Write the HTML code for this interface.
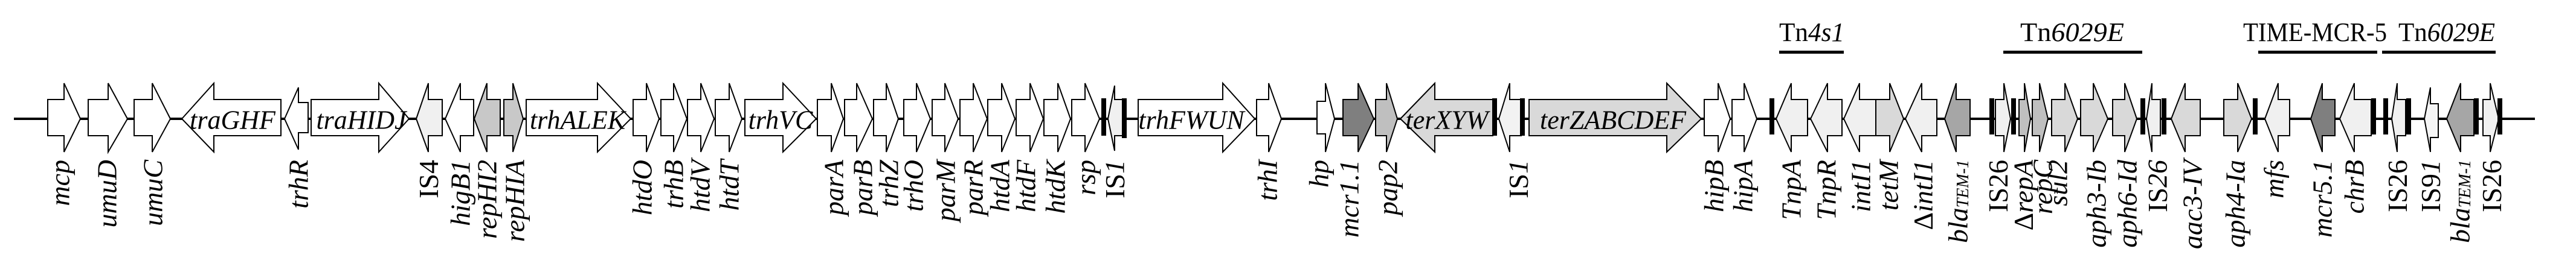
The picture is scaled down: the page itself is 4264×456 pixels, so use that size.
<!DOCTYPE html>
<html><head><meta charset="utf-8"><style>
html,body{margin:0;padding:0;background:#fff;}
svg{display:block;}
.g{stroke:#000;stroke-width:2;stroke-linejoin:miter;}
.l{font-family:"Liberation Serif",serif;font-size:46px;font-style:italic;fill:#000;}
.u{font-style:normal;}
.t{font-family:"Liberation Serif",serif;font-size:44px;font-style:italic;fill:#000;}
.h{font-family:"Liberation Serif",serif;font-size:44px;fill:#000;}
</style></head><body>
<svg width="4264" height="456" viewBox="0 0 4264 456" xmlns="http://www.w3.org/2000/svg">
<line x1="23" y1="197" x2="4196" y2="197" stroke="#000" stroke-width="4"/>
<g class="g" fill="#fff">
<polygon points="79,165 106,165 106,138 133,197 106,252 106,225 79,225"/>
<polygon points="146,165 179,165 179,138 211,197 179,252 179,225 146,225"/>
<polygon points="222,165 252,165 252,138 282,197 252,252 252,225 222,225"/>
<polygon points="515,165 627,165 627,138 677,197 627,252 627,225 515,225"/>
<polygon fill="#c8c8c8" points="834,165 849,165 849,138 866,197 849,252 849,225 834,225"/>
<polygon points="871,165 989,165 989,138 1044,197 989,252 989,225 871,225"/>
<polygon points="1048,165 1070,165 1070,138 1091,197 1070,252 1070,225 1048,225"/>
<polygon points="1094,165 1115,165 1115,138 1137,197 1115,252 1115,225 1094,225"/>
<polygon points="1138,165 1160,165 1160,138 1182,197 1160,252 1160,225 1138,225"/>
<polygon points="1184,165 1207,165 1207,138 1228,197 1207,252 1207,225 1184,225"/>
<polygon points="1233,165 1296,165 1296,138 1351,197 1296,252 1296,225 1233,225"/>
<polygon points="1353,165 1376,165 1376,138 1396,197 1376,252 1376,225 1353,225"/>
<polygon points="1398,165 1418,165 1418,138 1444,197 1418,252 1418,225 1398,225"/>
<polygon points="1446,165 1467,165 1467,138 1487,197 1467,252 1467,225 1446,225"/>
<polygon points="1496,165 1517,165 1517,138 1540,197 1517,252 1517,225 1496,225"/>
<polygon points="1543,165 1564,165 1564,138 1586,197 1564,252 1564,225 1543,225"/>
<polygon points="1589,165 1611,165 1611,138 1634,197 1611,252 1611,225 1589,225"/>
<polygon points="1635,165 1658,165 1658,138 1680,197 1658,252 1658,225 1635,225"/>
<polygon points="1682,165 1705,165 1705,138 1727,197 1705,252 1705,225 1682,225"/>
<polygon points="1728,165 1751,165 1751,138 1772,197 1751,252 1751,225 1728,225"/>
<polygon points="1774,165 1796,165 1796,138 1820,197 1796,252 1796,225 1774,225"/>
<polygon points="1884,165 2024,165 2024,138 2077,197 2024,252 2024,225 1884,225"/>
<polygon points="2080,165 2100,165 2100,138 2121,197 2100,252 2100,225 2080,225"/>
<polygon points="2180,168 2194,168 2194,138 2209,197 2194,252 2194,222 2180,222"/>
<polygon fill="#7f7f7f" points="2223,165 2248,165 2248,138 2274,197 2248,252 2248,225 2223,225"/>
<polygon fill="#bfbfbf" points="2277,165 2295,165 2295,138 2313,197 2295,252 2295,225 2277,225"/>
<polygon fill="#d9d9d9" points="2531,165 2759,165 2759,138 2816,197 2759,252 2759,225 2531,225"/>
<polygon points="2821,165 2844,165 2844,138 2864,197 2844,252 2844,225 2821,225"/>
<polygon points="2867,165 2887,165 2887,138 2908,197 2887,252 2887,225 2867,225"/>
<polygon fill="#d9d9d9" points="3105,165 3128,165 3128,138 3151,197 3128,252 3128,225 3105,225"/>
<polygon fill="#f0f0f0" points="3303,165 3317,165 3317,138 3328,197 3317,252 3317,225 3303,225"/>
<polygon fill="#bfbfbf" points="3342,165 3351,165 3351,138 3361,197 3351,252 3351,225 3342,225"/>
<polygon fill="#bfbfbf" points="3364,165 3376,165 3376,138 3390,197 3376,252 3376,225 3364,225"/>
<polygon fill="#d9d9d9" points="3396,165 3418,165 3418,138 3439,197 3418,252 3418,225 3396,225"/>
<polygon fill="#d9d9d9" points="3444,165 3465,165 3465,138 3489,197 3465,252 3465,225 3444,225"/>
<polygon fill="#d9d9d9" points="3497,165 3517,165 3517,138 3537,197 3517,252 3517,225 3497,225"/>
<polygon fill="#d9d9d9" points="3681,165 3704,165 3704,138 3727,197 3704,252 3704,225 3681,225"/>
<polygon fill="#f0f0f0" points="4110,165 4122,165 4122,138 4136,197 4122,252 4122,225 4110,225"/>
<polygon points="301,197 354,138 354,165 465,165 465,225 354,225 354,252"/>
<polygon points="471,197 494,145 494,170 510,170 510,220 494,220 494,248"/>
<polygon fill="#f0f0f0" points="689,197 709,138 709,165 732,165 732,225 709,225 709,252"/>
<polygon points="737,197 762,138 762,165 784,165 784,225 762,225 762,252"/>
<polygon fill="#c8c8c8" points="785,197 806,138 806,165 828,165 828,225 806,225 806,252"/>
<polygon fill="#f0f0f0" points="1834,197 1845,142 1845,165 1859,165 1859,225 1845,225 1845,250"/>
<polygon fill="#d9d9d9" points="2318,197 2375,138 2375,165 2471,165 2471,225 2375,225 2375,252"/>
<polygon fill="#f2f2f2" points="2481,197 2499,138 2499,165 2518,165 2518,225 2499,225 2499,252"/>
<polygon fill="#f0f0f0" points="2940,197 2965,138 2965,165 2992,165 2992,225 2965,225 2965,252"/>
<polygon fill="#f0f0f0" points="2997,197 3025,138 3025,165 3049,165 3049,225 3025,225 3025,252"/>
<polygon fill="#f0f0f0" points="3052,197 3078,138 3078,165 3105,165 3105,225 3078,225 3078,252"/>
<polygon fill="#f0f0f0" points="3154,197 3181,138 3181,165 3206,165 3206,225 3181,225 3181,252"/>
<polygon fill="#a6a6a6" points="3219,197 3238,138 3238,165 3261,165 3261,225 3238,225 3238,252"/>
<polygon fill="#f0f0f0" points="3553,197 3562,138 3562,165 3576,165 3576,225 3562,225 3562,252"/>
<polygon fill="#d9d9d9" points="3594,197 3617,138 3617,165 3642,165 3642,225 3617,225 3617,252"/>
<polygon fill="#f0f0f0" points="3749,197 3771,138 3771,165 3790,165 3790,225 3771,225 3771,252"/>
<polygon fill="#7f7f7f" points="3825,197 3844,138 3844,165 3865,165 3865,225 3844,225 3844,252"/>
<polygon fill="#f0f0f0" points="3873,197 3897,138 3897,165 3925,165 3925,225 3897,225 3897,252"/>
<polygon fill="#f0f0f0" points="3959,197 3968,138 3968,165 3982,165 3982,225 3968,225 3968,252"/>
<polygon fill="#f5f5f5" points="4013,197 4023,145 4023,172 4036,172 4036,228 4023,228 4023,252"/>
<polygon fill="#a6a6a6" points="4050,197 4073,138 4073,165 4095,165 4095,225 4073,225 4073,252"/>
</g>
<g fill="#000">
<rect x="1823" y="163" width="8" height="62"/>
<rect x="1857" y="163" width="8" height="66"/>
<rect x="2470" y="163" width="8" height="62"/>
<rect x="2516" y="163" width="8" height="62"/>
<rect x="2929" y="163" width="8" height="60"/>
<rect x="3293" y="163" width="8" height="60"/>
<rect x="3329" y="163" width="8" height="60"/>
<rect x="3543" y="163" width="8" height="60"/>
<rect x="3578" y="163" width="8" height="60"/>
<rect x="3729" y="163" width="8" height="60"/>
<rect x="3925" y="163" width="8" height="60"/>
<rect x="3945" y="163" width="8" height="60"/>
<rect x="3983" y="163" width="8" height="60"/>
<rect x="4095" y="163" width="8" height="60"/>
<rect x="4134" y="163" width="8" height="60"/>
</g>
<g class="t" text-anchor="middle" dominant-baseline="central">
<text x="385" y="199">traGHF</text>
<text x="598" y="199">traHIDJ</text>
<text x="956" y="199">trhALEK</text>
<text x="1292" y="199">trhVC</text>
<text x="1972" y="199">trhFWUN</text>
<text x="2395" y="199">terXYW</text>
<text x="2670" y="199">terZABCDEF</text>
</g>
<g fill="#000">
<rect x="2945" y="84" width="107" height="5"/>
<rect x="3316" y="84" width="230" height="5"/>
<rect x="3738" y="84" width="197" height="5"/>
<rect x="3943" y="84" width="188" height="5"/>
</g>
<g class="h">
<text x="2945" y="68" textLength="108" lengthAdjust="spacingAndGlyphs">Tn<tspan font-style="italic">4s1</tspan></text>
<text x="3344" y="68" textLength="172" lengthAdjust="spacingAndGlyphs">Tn<tspan font-style="italic">6029E</tspan></text>
<text x="3713" y="68" textLength="238" lengthAdjust="spacingAndGlyphs">TIME-MCR-5</text>
<text x="3970" y="68" textLength="160" lengthAdjust="spacingAndGlyphs">Tn<tspan font-style="italic">6029E</tspan></text>
</g>
<g class="l" text-anchor="end" dominant-baseline="central">
<text transform="translate(99,265) rotate(-90)">mcp</text>
<text transform="translate(177,265) rotate(-90)">umuD</text>
<text transform="translate(253,265) rotate(-90)">umuC</text>
<text transform="translate(494,265) rotate(-90)">trhR</text>
<text transform="translate(709,265) rotate(-90)"><tspan class="u">IS4</tspan></text>
<text transform="translate(762,265) rotate(-90)">higB1</text>
<text transform="translate(806,265) rotate(-90)">repHI2</text>
<text transform="translate(852,265) rotate(-90)">repHIA</text>
<text transform="translate(1063,265) rotate(-90)">htdO</text>
<text transform="translate(1115,265) rotate(-90)">trhB</text>
<text transform="translate(1159,265) rotate(-90)">htdV</text>
<text transform="translate(1207,265) rotate(-90)">htdT</text>
<text transform="translate(1380,265) rotate(-90)">parA</text>
<text transform="translate(1428,265) rotate(-90)">parB</text>
<text transform="translate(1471,265) rotate(-90)">trhZ</text>
<text transform="translate(1512,265) rotate(-90)">trhO</text>
<text transform="translate(1565,265) rotate(-90)">parM</text>
<text transform="translate(1611,265) rotate(-90)">parR</text>
<text transform="translate(1655,265) rotate(-90)">htdA</text>
<text transform="translate(1698,265) rotate(-90)">htdF</text>
<text transform="translate(1747,265) rotate(-90)">htdK</text>
<text transform="translate(1797,265) rotate(-90)">rsp</text>
<text transform="translate(1845,265) rotate(-90)"><tspan class="u">IS</tspan>1</text>
<text transform="translate(2098,265) rotate(-90)">trhI</text>
<text transform="translate(2183,265) rotate(-90)">hp</text>
<text transform="translate(2233,265) rotate(-90)">mcr1.1</text>
<text transform="translate(2297,265) rotate(-90)">pap2</text>
<text transform="translate(2513,265) rotate(-90)"><tspan class="u">IS</tspan>1</text>
<text transform="translate(2837,265) rotate(-90)">hipB</text>
<text transform="translate(2885,265) rotate(-90)">hipA</text>
<text transform="translate(2965,265) rotate(-90)">TnpA</text>
<text transform="translate(3023,265) rotate(-90)">TnpR</text>
<text transform="translate(3080,265) rotate(-90)">intI1</text>
<text transform="translate(3126,265) rotate(-90)">tetM</text>
<text transform="translate(3183,265) rotate(-90)"><tspan class="u">Δ</tspan>intI1</text>
<text transform="translate(3241,265) rotate(-90)">bla<tspan font-size="28" dy="8">TEM-1</tspan></text>
<text transform="translate(3307,265) rotate(-90)"><tspan class="u">IS26</tspan></text>
<text transform="translate(3349,265) rotate(-90)"><tspan class="u">Δ</tspan>repA</text>
<text transform="translate(3381,265) rotate(-90)">repC</text>
<text transform="translate(3406,265) rotate(-90)">sul2</text>
<text transform="translate(3470,265) rotate(-90)">aph3-Ib</text>
<text transform="translate(3521,265) rotate(-90)">aph6-Id</text>
<text transform="translate(3571,265) rotate(-90)"><tspan class="u">IS</tspan>26</text>
<text transform="translate(3629,265) rotate(-90)">aac3-IV</text>
<text transform="translate(3700,265) rotate(-90)">aph4-Ia</text>
<text transform="translate(3764,265) rotate(-90)">mfs</text>
<text transform="translate(3844,265) rotate(-90)">mcr5.1</text>
<text transform="translate(3897,265) rotate(-90)">chrB</text>
<text transform="translate(3968,265) rotate(-90)"><tspan class="u">IS26</tspan></text>
<text transform="translate(4023,265) rotate(-90)"><tspan class="u">IS9</tspan>1</text>
<text transform="translate(4072,265) rotate(-90)">bla<tspan font-size="28" dy="8">TEM-1</tspan></text>
<text transform="translate(4124,265) rotate(-90)"><tspan class="u">IS26</tspan></text>
</g>
</svg>
</body></html>
